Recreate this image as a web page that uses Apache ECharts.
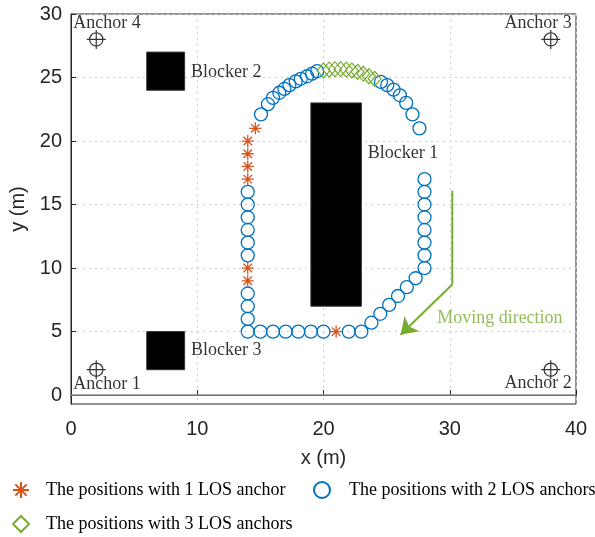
<!DOCTYPE html>
<html>
<head>
<meta charset="utf-8">
<script src="https://cdn.jsdelivr.net/npm/echarts@6/dist/echarts.min.js"></script>
<style>html,body{margin:0;padding:0;background:#fff}#c{width:595px;height:537px}</style>
</head>
<body>
<div id="c"></div>
<script>
// ---- data ----
const seriesNames = ['The positions with 1 LOS anchor', 'The positions with 2 LOS anchors', 'The positions with 3 LOS anchors'];
const los1 = [[14,17],[14,18],[14,19],[14,20],[14.6,21],[14,9],[14,10],[21,5]];
const los2 = [
  [14,5],[14,6],[14,7],[14,8],[14,11],[14,12],[14,13],[14,14],[14,15],[14,16],
  [15,5],[16,5],[17,5],[18,5],[19,5],[20,5],[22,5],[23,5],
  [23.8,5.7],[24.5,6.4],[25.2,7.1],[25.9,7.8],[26.6,8.5],[27.3,9.2],
  [28,10],[28,11],[28,12],[28,13],[28,14],[28,15],[28,16],[28,17],
  [15.05,22.1],[15.6,22.9],[16.0,23.4],[16.5,23.8],[16.9,24.1],[17.3,24.4],[17.8,24.7],[18.2,24.9],[18.7,25.1],[19.1,25.3],[19.5,25.5],
  [24.55,24.65],[25.05,24.4],[25.55,24.05],[26.05,23.6],[26.55,23.0],[27.05,22.1],[27.6,21.0]
];
const los3 = [[20.0,25.55],[20.45,25.62],[20.9,25.66],[21.35,25.66],[21.8,25.62],[22.25,25.55],[22.7,25.45],[23.15,25.3],[23.6,25.1],[24.05,24.9]];
const anchors = [[2,2],[38,2],[38,28],[2,28]];
const blockers = [[19,7,23,23],[6,24,9,27],[6,2,9,5]]; // x0,y0,x1,y1
const anchorLabels = ['Anchor 1','Anchor 2','Anchor 3','Anchor 4'];
const anchorLabelPos = [[2.85,0.85],[37.0,0.9],[37.0,29.25],[2.85,29.25]];
const blockerLabels = ['Blocker 1','Blocker 2','Blocker 3'];
const blockerLabelPos = [[23.5,19],[9.5,25.4],[9.5,3.5]];
const arrowStem = [[30.2,16.1],[30.2,8.7]];
const arrowHead = [[30.2,8.7],[26.1,4.75]];
const arrowText = 'Moving direction';
const arrowTextPos = [29.0,6.05];
const yTicks = [0,5,10,15,20,25,30];

// ---- styles ----
const cStar = '#D95319', cCirc = '#0072BD', cDia = '#77AC30';
const serif = 'Liberation Serif';
const starPath = 'path://M0,-10L0,10M-10,0L10,0M-7.07,-7.07L7.07,7.07M-7.07,7.07L7.07,-7.07';
const anchorPath = 'path://M-10,0L10,0M0,-10L0,10M7,0A7,7,0,1,1,-7,0A7,7,0,1,1,7,0';

const chart = echarts.init(document.getElementById('c'), null, {renderer: 'canvas'});
function legendAt(name, left, top, pad) {
  return {
    data: [name], left: left, top: top, padding: 0,
    orient: 'horizontal', itemWidth: 16, itemHeight: 16, itemGap: 10, selectedMode: false,
    textStyle: {fontFamily: serif, fontSize: 18, color: '#000', padding: [0, 0, 0, pad]}
  };
}
chart.setOption({
  animation: false,
  backgroundColor: '#fff',
  grid: {left: 68, right: 19, top: 14, bottom: 133, show: true, borderColor: '#262626', borderWidth: 1, backgroundColor: 'transparent'},
  legend: [
    legendAt(seriesNames[0], 12, 481, 12),
    legendAt(seriesNames[1], 313, 481, 14),
    legendAt(seriesNames[2], 12, 515, 12)
  ],
  xAxis: {
    type: 'value', min: 0, max: 40, interval: 10,
    name: 'x (m)', nameLocation: 'middle', nameGap: 44,
    nameTextStyle: {fontFamily: 'Liberation Sans', fontSize: 20, color: '#262626'},
    axisLine: {show: true, lineStyle: {color: '#262626', width: 1}},
    axisTick: {show: true, inside: true, length: 5, lineStyle: {color: '#262626'}},
    axisLabel: {fontFamily: 'Liberation Sans', fontSize: 20, color: '#262626', margin: 15},
    splitLine: {show: true, lineStyle: {color: '#d0d0d0', type: [2, 4], width: 1}}
  },
  yAxis: {
    type: 'value', min: -0.7, max: 30,
    name: 'y (m)', nameLocation: 'middle', nameGap: 43,
    nameTextStyle: {fontFamily: 'Liberation Sans', fontSize: 20, color: '#262626'},
    axisLine: {show: true, lineStyle: {color: '#262626', width: 1}},
    axisTick: {show: true, inside: true, length: 5, customValues: yTicks, lineStyle: {color: '#262626'}},
    axisLabel: {fontFamily: 'Liberation Sans', fontSize: 20, color: '#262626', margin: 9, customValues: yTicks},
    splitLine: {show: true, lineStyle: {color: '#d0d0d0', type: [2, 4], width: 1}}
  },
  series: [
    {
      type: 'custom', name: 'blockers', silent: true, z: 1,
      encode: {x: [0, 2], y: [1, 3]},
      data: blockers,
      renderItem: function (params, api) {
        const p0 = api.coord([api.value(0), api.value(3)]);
        const p1 = api.coord([api.value(2), api.value(1)]);
        return {type: 'rect', shape: {x: p0[0], y: p0[1], width: p1[0] - p0[0], height: p1[1] - p0[1]}, style: {fill: '#000', stroke: '#333', lineWidth: 1}};
      },
      markLine: {
        silent: true, symbol: 'none', animation: false,
        label: {show: false},
        lineStyle: {color: '#8c8c8c', type: 'solid', width: 1.5},
        data: [{yAxis: 0}]
      }
    },
    {
      type: 'scatter', name: 'anchors', z: 3, symbol: anchorPath, symbolSize: 19,
      itemStyle: {color: 'transparent', borderColor: '#000', borderWidth: 1.2},
      data: anchors
    },
    {
      type: 'scatter', name: seriesNames[1], z: 4, symbol: 'circle', symbolSize: 13,
      itemStyle: {color: 'transparent', borderColor: cCirc, borderWidth: 1.3, opacity: 1},
      data: los2
    },
    {
      type: 'scatter', name: seriesNames[2], z: 5, symbol: 'diamond', symbolSize: [13, 15],
      itemStyle: {color: 'transparent', borderColor: cDia, borderWidth: 1.2, opacity: 1},
      data: los3
    },
    {
      type: 'scatter', name: seriesNames[0], z: 6, symbol: starPath, symbolSize: 12,
      itemStyle: {color: 'transparent', borderColor: cStar, borderWidth: 1.3, opacity: 1},
      data: los1
    },
    {
      type: 'lines', name: 'arrowStem', coordinateSystem: 'cartesian2d', polyline: true, z: 4,
      lineStyle: {color: cDia, width: 2, opacity: 1},
      data: [{coords: arrowStem}]
    },
    {
      type: 'lines', name: 'arrowHead', coordinateSystem: 'cartesian2d', z: 4,
      symbol: ['none', 'arrow'], symbolSize: [13, 16],
      lineStyle: {color: cDia, width: 2, opacity: 1},
      itemStyle: {color: cDia},
      data: [{coords: arrowHead}]
    },
    {
      type: 'scatter', name: 'anchorText', z: 7, symbolSize: 0, silent: true,
      label: {show: true, position: 'inside', formatter: '{b}', fontFamily: serif, fontSize: 18, color: '#000'},
      data: anchorLabels.map((t, i) => ({name: t, value: anchorLabelPos[i]}))
    },
    {
      type: 'scatter', name: 'blockerText', z: 7, symbolSize: 0, silent: true,
      label: {show: true, position: 'right', distance: 0, formatter: '{b}', fontFamily: serif, fontSize: 18, color: '#000'},
      data: blockerLabels.map((t, i) => ({name: t, value: blockerLabelPos[i]}))
    },
    {
      type: 'scatter', name: 'arrowText', z: 7, symbolSize: 0, silent: true,
      label: {show: true, position: 'right', distance: 0, formatter: '{b}', fontFamily: serif, fontSize: 18, color: cDia},
      data: [{name: arrowText, value: arrowTextPos}]
    }
  ]
});
</script>
</body>
</html>
